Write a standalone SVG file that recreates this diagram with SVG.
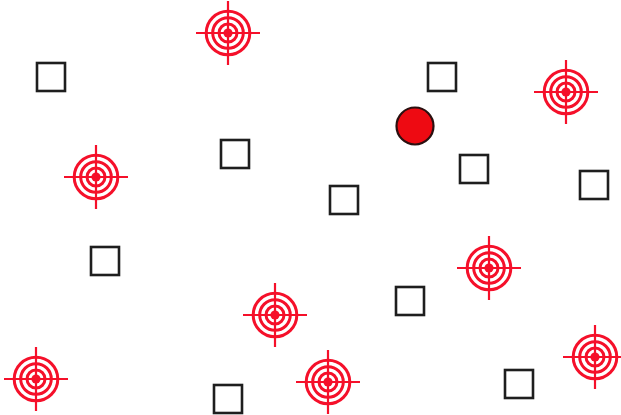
<svg xmlns="http://www.w3.org/2000/svg" xmlns:xlink="http://www.w3.org/1999/xlink" width="621" height="415" viewBox="0 0 621 415">
<style>
.ring{fill:none;stroke:#f5102a;stroke-width:3}
.cross{stroke:#f5102a;stroke-width:2.2}
.dot{fill:#f5102a}
.box{fill:#fff;stroke:#1e1e1e;stroke-width:2.6}
.ball{fill:#ee0a12;stroke:#2a1010;stroke-width:2.2}
</style>
<defs>
<g id="target">
<line class="cross" x1="-32" y1="0" x2="32" y2="0"/>
<line class="cross" x1="0" y1="-32" x2="0" y2="32"/>
<circle class="ring" r="21.8"/>
<circle class="ring" r="15.3"/>
<circle class="ring" r="9"/>
<circle class="dot" r="4.6"/>
</g>
<rect id="sq" class="box" x="-14" y="-14" width="28" height="28"/>
</defs>
<rect width="621" height="415" fill="#fff"/>
<g id="connectors"></g>
<g id="t1"><use xlink:href="#target" x="228" y="33"/></g>
<g id="t2"><use xlink:href="#target" x="566" y="92"/></g>
<g id="t3"><use xlink:href="#target" x="96" y="177"/></g>
<g id="t4"><use xlink:href="#target" x="489" y="268"/></g>
<g id="t5"><use xlink:href="#target" x="275" y="315"/></g>
<g id="t6"><use xlink:href="#target" x="595" y="357"/></g>
<g id="t7"><use xlink:href="#target" x="36" y="379"/></g>
<g id="t8"><use xlink:href="#target" x="328" y="382"/></g>
<g id="s1"><use xlink:href="#sq" x="51" y="77"/></g>
<g id="s2"><use xlink:href="#sq" x="442" y="77"/></g>
<g id="s3"><use xlink:href="#sq" x="235" y="154"/></g>
<g id="s4"><use xlink:href="#sq" x="474" y="169"/></g>
<g id="s5"><use xlink:href="#sq" x="594" y="185"/></g>
<g id="s6"><use xlink:href="#sq" x="344" y="200"/></g>
<g id="s7"><use xlink:href="#sq" x="105" y="261"/></g>
<g id="s8"><use xlink:href="#sq" x="410" y="301"/></g>
<g id="s9"><use xlink:href="#sq" x="228" y="399"/></g>
<g id="s10"><use xlink:href="#sq" x="519" y="384"/></g>
<g id="ball"><circle class="ball" cx="415" cy="126" r="18.5"/></g>
</svg>
